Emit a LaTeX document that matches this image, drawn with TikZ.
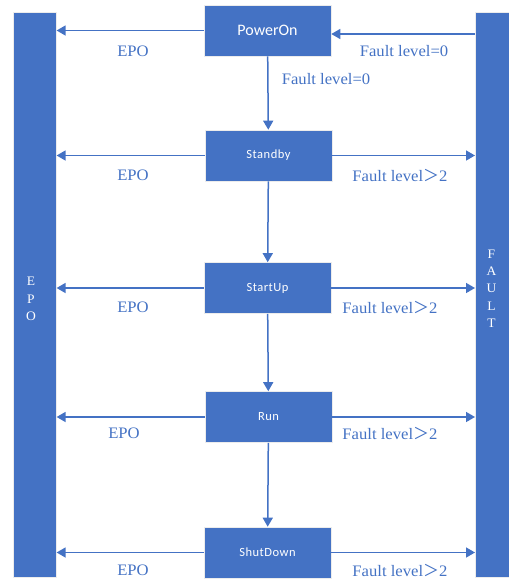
\documentclass[tikz,border=0pt]{standalone}
\usepackage{fontspec}
\setmainfont{Liberation Serif}[FakeStretch=1.04]
\newfontfamily\boxfont{Carlito}[LetterSpace=4]
\newfontfamily\pwrfont{Carlito}
\newfontfamily\cjk{Noto Sans CJK SC}
\usetikzlibrary{arrows.meta}
\definecolor{blu}{HTML}{4472C4}
\begin{document}
\begin{tikzpicture}[x=1pt,y=-1pt,
 state/.style={fill=blu, draw=white!85!gray, line width=0.6pt, minimum width=127pt, minimum height=51pt, inner sep=0, text=white, font=\boxfont\fontsize{12.5}{14}\selectfont},
 bar/.style={fill=blu, draw=white!85!gray, line width=0.6pt, inner sep=0},
 conn/.style={draw=blu, line width=1.5pt, -{Triangle[length=9pt,width=10pt]}},
 lab/.style={text=blu, font=\fontsize{16}{18}\selectfont, inner sep=0},
 bartext/.style={text=white, font=\fontsize{13}{17.3}\selectfont, align=center, inner sep=0}]
\useasboundingbox (0,0) rectangle (509,579);
\node[bar, minimum width=43pt, minimum height=565pt, anchor=north west] (epo) at (13,12) {};
\node[bar, minimum width=36pt, minimum height=565pt, anchor=north west] (fault) at (475,12) {};
\node[bartext] (epot) at (31,299) {E\\P\\O};
\node[bartext] (faultt) at (491.5,288.5) {F\\A\\U\\L\\T};

\node[state, font=\pwrfont\fontsize{16}{18}\selectfont] (pwr) at (267.5,30.5) {PowerOn};
\node[state] (stb) at (268.5,155.5) {Standby};
\node[state] (stu) at (267.5,288) {StartUp};
\node[state] (run) at (268.5,417) {Run};
\node[state] (sd) at (267.5,552.5) {ShutDown};

\draw[conn] (pwr.west) -- (epo.east |- pwr.west);
\draw[conn] (fault.west |- 0,34) coordinate (f0) -- (pwr.east |- f0);
\draw[conn] (pwr) -- (stb);
\draw[conn] (stb) -- (stu);
\draw[conn] (stu) -- (run);
\draw[conn] (run) -- (sd);
\foreach \s in {stb,stu,run,sd}{
  \draw[conn] (\s.west) -- (epo.east |- \s.west);
  \draw[conn] (\s.east) -- (fault.west |- \s.east);
}

\node[lab] (l1) at (133,51) {EPO};
\node[lab] (l2) at (404,51) {Fault level=0};
\node[lab] (l3) at (326,79) {Fault level=0};
\node[lab] (l4) at (133,175) {EPO};
\node[lab] (l5) at (400,175) {Fault level{\cjk ＞}2};
\node[lab] (l6) at (133,307) {EPO};
\node[lab] (l7) at (390,307) {Fault level{\cjk ＞}2};
\node[lab] (l8) at (124,433) {EPO};
\node[lab] (l9) at (390,433) {Fault level{\cjk ＞}2};
\node[lab] (l10) at (133,570) {EPO};
\node[lab] (l11) at (400,570) {Fault level{\cjk ＞}2};
\end{tikzpicture}
\end{document}
